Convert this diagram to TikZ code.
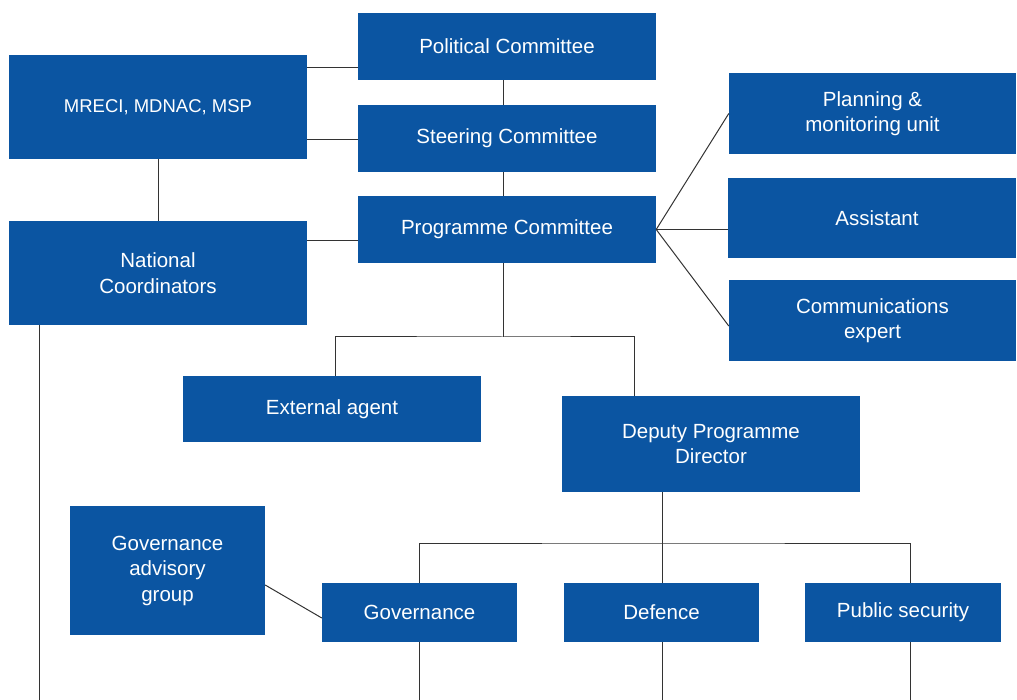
\documentclass[tikz,border=0pt]{standalone}
\usepackage{fontspec}
\setmainfont{Liberation Sans}
\definecolor{blu}{HTML}{0B55A2}
\definecolor{ln}{HTML}{333333}
\begin{document}
\begin{tikzpicture}[x=1pt,y=-1pt,
  box/.style={fill=blu,text=white,inner sep=0pt,align=center,font=\fontsize{20.5}{25.5}\selectfont},
  conn/.style={draw=ln,line width=1pt}]
\useasboundingbox (0,0) rectangle (1017,700);
\node[box,minimum width=298pt,minimum height=67pt] (pol) at (507,46.5) {\raisebox{-2pt}{Political Committee}};
\node[box,minimum width=298pt,minimum height=104pt,font=\fontsize{18.5}{22}\selectfont] (mreci) at (158,107) {MRECI, MDNAC, MSP};
\node[box,minimum width=298pt,minimum height=67pt] (steer) at (507,138.5) {Steering Committee};
\node[box,minimum width=298pt,minimum height=67pt] (prog) at (507,229.5) {Programme Committee};
\node[box,minimum width=298pt,minimum height=104pt] (nat) at (158,273) {National\\Coordinators};
\node[box,minimum width=287pt,minimum height=81pt] (plan) at (872.5,113.5) {Planning \&\\monitoring unit};
\node[box,minimum width=288pt,minimum height=80pt] (asst) at (872,218) {\hspace*{10pt}Assistant};
\node[box,minimum width=287pt,minimum height=81pt] (comm) at (872.5,320.5) {Communications\\expert};
\node[box,minimum width=298pt,minimum height=66pt] (ext) at (332,409) {External agent};
\node[box,minimum width=298pt,minimum height=96pt] (dep) at (711,444) {Deputy Programme\\Director};
\node[box,minimum width=195pt,minimum height=129pt] (gag) at (167.5,570.5) {Governance\\advisory\\group};
\node[box,minimum width=195pt,minimum height=59pt] (gov) at (419.5,612.5) {Governance};
\node[box,minimum width=195pt,minimum height=59pt] (def) at (661.5,612.5) {\raisebox{-2pt}{Defence}};
\node[box,minimum width=196pt,minimum height=59pt] (pub) at (903,612.5) {Public security};
\coordinate (bottom) at (0,700);
% top cluster
\draw[conn] (mreci.east |- 0,68) -- (pol.west |- 0,68);
\draw[conn] (mreci.east |- 0,140) -- (steer.west |- 0,140);
\draw[conn] (pol.south -| 503,0) -- (steer.north -| 503,0);
\draw[conn] (steer.south -| 503,0) -- (prog.north -| 503,0);
\draw[conn] (mreci.south) -- (nat.north);
\draw[conn] (nat.east |- 0,241) -- (prog.west |- 0,241);
\draw[conn] (nat.south -| 39,0) -- (bottom -| 39,0);
% right fan
\draw[conn] (prog.east) -- (plan.west);
\draw[conn] (prog.east) -- (asst.west |- prog.east);
\draw[conn] (prog.east) -- (comm.west |- 0,326);
% fork to external/deputy
\draw[conn] (prog.south -| 503,0) -- (503,337);
\draw[conn] (ext.north -| 335,0) |- (503,337) -| (dep.north -| 634,0);
% deputy fork
\draw[conn] (dep.south -| 662,0) -- (def.north -| 662,0);
\draw[conn] (gov.north) |- (662,543) -| (pub.north -| 910,0);
\draw[conn] (gag.east |- 0,585) -- (gov.west |- 0,618);
\draw[conn] (gov.south) -- (bottom -| gov.south);
\draw[conn] (def.south -| 662,0) -- (bottom -| 662,0);
\draw[conn] (pub.south -| 910,0) -- (bottom -| 910,0);
\end{tikzpicture}
\end{document}
